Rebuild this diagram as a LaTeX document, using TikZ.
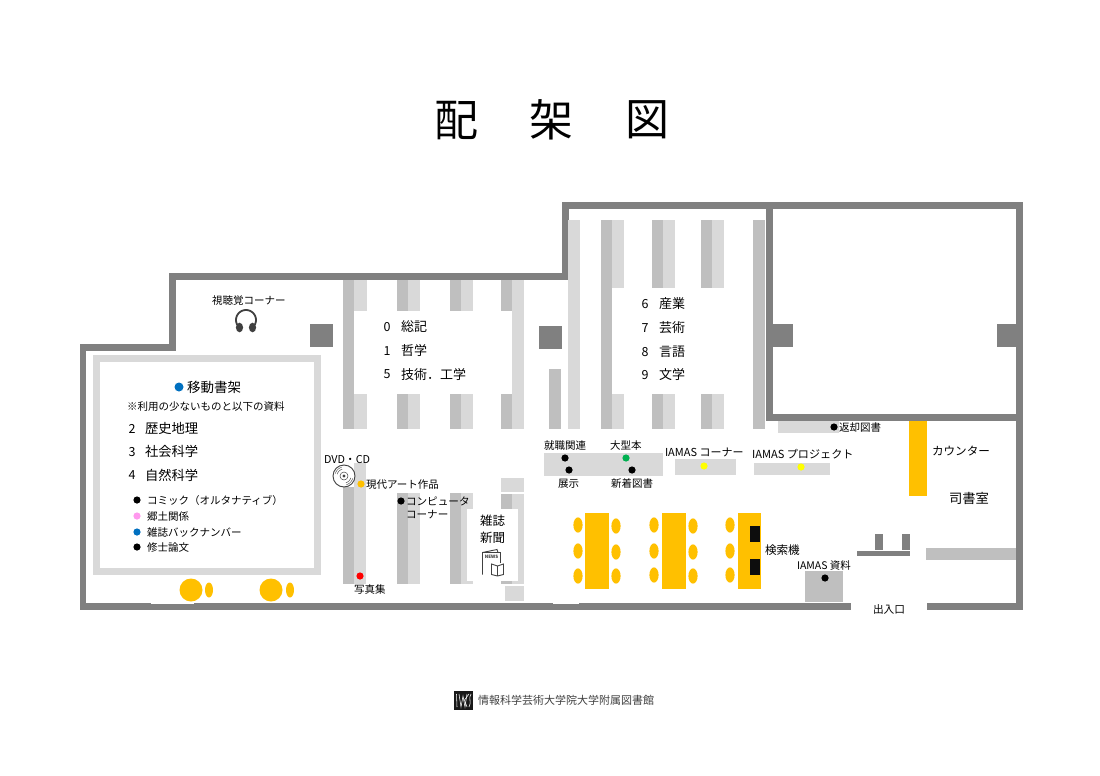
\documentclass[tikz,border=0pt]{standalone}
\usepackage{fontspec}
\setmainfont{Noto Sans CJK JP}
\definecolor{wall}{HTML}{808080}
\definecolor{dk}{HTML}{BFBFBF}
\definecolor{lt}{HTML}{D9D9D9}
\definecolor{org}{HTML}{FFC000}
\definecolor{blu}{HTML}{0070C0}
\definecolor{pnk}{HTML}{FF99EE}
\definecolor{grn}{HTML}{00B050}
\definecolor{ylw}{HTML}{FFFF00}
\definecolor{icon}{HTML}{404040}
\newcommand{\bx}[5]{\fill[#1] (#2,#3) rectangle (#4,#5);}
% shelf pair: x-dark-left, x-mid, x-light-right, y-top, y-bottom
\newcommand{\pair}[5]{\bx{dk}{#1}{#4}{#2}{#5}\bx{lt}{#2}{#4}{#3}{#5}}
\newcommand{\dotc}[3]{\fill[#1] (#2,#3) circle (3.6);}
\newcommand{\tw}[4]{\node[txt,font=\fontsize{#1}{#1}\selectfont] at (#2,#3) {#4};}
\newcommand{\tc}[4]{\node[txt,anchor=center,font=\fontsize{#1}{#1}\selectfont] at (#2,#3) {#4};}
\begin{document}
\begin{tikzpicture}[x=1pt,y=-1pt,
  txt/.style={anchor=west,inner sep=0pt,outer sep=0pt,text=black,yshift=-0.6pt}]
\useasboundingbox (0,0) rectangle (1100,776);
\fill[white] (0,0) rectangle (1100,776);
% walls
\bx{wall}{80}{344}{176}{351}
\bx{wall}{169}{273}{176}{351}
\bx{wall}{169}{273}{569}{280}
\bx{wall}{562}{202}{569}{280}
\bx{wall}{562}{202}{1023}{209}
\bx{wall}{1016}{202}{1023}{610}
\bx{wall}{766}{202}{773}{421}
\bx{wall}{766}{414}{1023}{421}
\bx{wall}{80}{344}{86}{610}
\bx{wall}{80}{603}{851}{610}
\bx{wall}{927}{603}{1023}{610}
% notches
\bx{white}{151}{603}{194}{604}
\bx{white}{553}{603}{579}{604}
% pillars
\bx{wall}{310}{324}{333}{347}
\bx{wall}{539}{326}{562}{349}
\bx{wall}{773}{324}{793}{347}
\bx{wall}{997}{324}{1016}{347}
% shelves, left block
\bx{dk}{343}{280}{354}{429}
\bx{lt}{354}{280}{367}{311}
\bx{lt}{354}{394}{367}{429}
\pair{397}{408}{420}{280}{311}
\pair{397}{408}{420}{394}{429}
\pair{450}{461}{473}{280}{311}
\pair{450}{461}{473}{394}{429}
\bx{dk}{501}{280}{512}{311}
\bx{dk}{501}{394}{512}{429}
\bx{lt}{512}{280}{524}{429}
\bx{dk}{549}{369}{561}{429}
% shelves, upper block
\bx{lt}{568}{220}{580}{429}
\bx{dk}{601}{220}{612}{429}
\bx{lt}{612}{220}{624}{288}
\bx{lt}{612}{394}{624}{429}
\pair{652}{663}{675}{220}{288}
\pair{652}{663}{675}{394}{429}
\pair{701}{712}{724}{220}{288}
\pair{701}{712}{724}{394}{429}
\bx{dk}{753}{220}{765}{429}
% return shelf
\bx{lt}{778}{421}{839}{433}
% mobile shelf
\bx{lt}{93}{355}{321}{575}
\bx{white}{100}{362}{314}{568}
% lower columns
\bx{lt}{354}{463}{366}{584}
\bx{dk}{343}{487}{354}{584}
\pair{397}{408}{420}{493}{584}
\pair{450}{461}{473}{493}{584}
\bx{lt}{501}{478}{524}{492}
\pair{501}{512}{524}{494}{584}
\bx{lt}{505}{586}{524}{601}
\bx{white}{467}{509}{518}{581}
% display tables
\bx{lt}{544}{453}{663}{476}
\bx{lt}{675}{459}{736}{475}
\bx{lt}{754}{463}{830}{475}
% counter
\bx{org}{909}{421}{927}{496}
% gate
\bx{wall}{857}{551}{910}{556}
\bx{wall}{875}{534}{883}{550}
\bx{wall}{902}{534}{910}{550}
\bx{dk}{926}{548}{1016}{560}
\bx{dk}{805}{571}{843}{602}
% tables
\bx{org}{585}{513}{609}{589}
\bx{org}{662}{513}{686}{589}
\bx{org}{738}{513}{761}{589}
\bx{black!95}{750}{526}{760}{542}
\bx{black!95}{750}{559}{760}{575}
% chairs
\foreach \cx/\ya/\yb/\yc in {578/525/551/576,616/526/552/576,654/525/551/575,693/526/552/576,730/525/551/575}{
  \fill[org] (\cx,\ya) ellipse (4.6 and 7.6);
  \fill[org] (\cx,\yb) ellipse (4.6 and 7.6);
  \fill[org] (\cx,\yc) ellipse (4.6 and 7.6);
}
\fill[org] (191,590) circle (11.5);
\fill[org] (209,590) ellipse (4 and 7.5);
\fill[org] (271,590) circle (11.5);
\fill[org] (290,590) ellipse (4 and 7.5);
% dots
\fill[blu] (179,387) circle (4.5);
\dotc{black}{137}{500}
\dotc{pnk}{137}{516}
\dotc{blu}{137}{532}
\dotc{black}{137}{547}
\dotc{org}{361}{484}
\dotc{red}{360}{576}
\dotc{black}{401}{501}
\dotc{black}{565}{458}
\dotc{black}{569}{470}
\dotc{grn}{626}{458}
\dotc{black}{632}{470}
\dotc{ylw}{704}{466}
\dotc{ylw}{801}{467}
\dotc{black}{825}{578}
\dotc{black}{834}{427}
% headphones
\draw[icon,line width=1.8] plot[smooth,domain=150:390,samples=30] ({246+10*cos(\x)},{320+10*sin(\x)});
\fill[icon] (239.5,327.5) ellipse (3.6 and 4.8);
\fill[icon] (252.5,327.5) ellipse (3.6 and 4.8);
% disc
\draw[fill=white,draw=icon,line width=0.9] (344,476) circle (11);
\draw[icon,line width=0.5] (344,476) circle (4);
\fill[icon] (344,476) circle (1.7);
\draw[icon,line width=0.4] plot[smooth,domain=195:255,samples=10] ({344+7*cos(\x)},{476+7*sin(\x)});
\draw[icon,line width=0.4] plot[smooth,domain=195:255,samples=10] ({344+9*cos(\x)},{476+9*sin(\x)});
\draw[icon,line width=0.4] plot[smooth,domain=15:75,samples=10] ({344+7*cos(\x)},{476+7*sin(\x)});
\draw[icon,line width=0.4] plot[smooth,domain=15:75,samples=10] ({344+9*cos(\x)},{476+9*sin(\x)});
% newspaper
\draw[icon,line width=0.9] (482.5,574.5) -- (482.5,552.5) -- (497,549.5) -- (498,552.5);
\draw[icon,line width=0.9] (482.5,552.5) -- (500,552.5) -- (500,563);
\node[inner sep=0pt,text=icon,font=\fontsize{4.5}{4.5}\selectfont\bfseries] at (491.5,556.5) {NEWS};
\draw[icon,line width=0.9,fill=white] (491.5,564) -- (497.5,566) -- (503.5,564) -- (503.5,574.5) -- (497.5,576) -- (491.5,574.5) -- cycle;
\draw[icon,line width=0.9] (497.5,566) -- (497.5,576);
% logo
\bx{black!90}{454}{691}{473}{710}
\draw[white,line width=0.55] (456.5,694) -- (457,707);
\draw[white,line width=0.55] (459,694) -- (461,707) -- (463,696) -- (465,707) -- (467,694);
\draw[white,line width=0.55] (467,707) -- (464.5,700) -- (469,694);
\draw[white,line width=0.55] (471,694) .. controls (468,698) and (472,702) .. (469,707);
% texts
\tc{44}{456}{119.5}{配}
\tc{44}{551}{119.5}{架}
\tc{44}{647}{119.5}{図}
\tw{10.5}{212}{300}{視聴覚コーナー}
\tw{13.5}{187}{387}{移動書架}
\tw{10.5}{127}{406}{※利用の少ないものと以下の資料}
\tc{12.5}{132}{428}{2}\tw{13.3}{145}{428}{歴史地理}
\tc{12.5}{132}{451}{3}\tw{13.3}{145}{451}{社会科学}
\tc{12.5}{132}{474.5}{4}\tw{13.3}{145}{474.5}{自然科学}
\tw{10.5}{147}{500}{コミック（オルタナティブ）}
\tw{10.5}{147}{516}{郷土関係}
\tw{10.5}{147}{532}{雑誌バックナンバー}
\tw{10.5}{147}{547}{修士論文}
\tc{12.5}{387}{326}{0}\tw{13}{401}{326}{総記}
\tc{12.5}{387}{350}{1}\tw{13}{401}{350}{哲学}
\tc{12.5}{387}{374}{5}\tw{13}{401}{374}{技術．工学}
\tc{12.5}{645}{303}{6}\tw{13}{659}{303}{産業}
\tc{12.5}{645}{327}{7}\tw{13}{659}{327}{芸術}
\tc{12.5}{645}{351}{8}\tw{13}{659}{351}{言語}
\tc{12.5}{645}{374}{9}\tw{13}{659}{374}{文学}
\tw{10.8}{324}{459}{DVD・CD}
\tw{10.5}{366}{484}{現代アート作品}
\tw{10.6}{406}{501}{コンピュータ}
\tw{10.6}{406}{514}{コーナー}
\tw{10.5}{354}{589}{写真集}
\tw{12.5}{480}{520}{雑誌}
\tw{12.5}{480}{537}{新聞}
\tw{10.5}{544}{445}{就職関連}
\tw{10.5}{610}{445}{大型本}
\tw{10.5}{558}{483}{展示}
\tw{10.5}{611}{483}{新着図書}
\tw{11}{665}{452}{IAMAS コーナー}
\tw{11.1}{752}{454}{IAMAS プロジェクト}
\tw{11.6}{765}{550}{検索機}
\tw{10.5}{797}{565}{IAMAS 資料}
\tw{10.5}{839}{427}{返却図書}
\tw{11.6}{932}{450}{カウンター}
\tw{13.3}{949}{498}{司書室}
\tw{10.7}{873}{609}{出入口}
\node[txt,text=icon,font=\fontsize{11}{11}\selectfont] at (478,700) {情報科学芸術大学院大学附属図書館};
\end{tikzpicture}
\end{document}
